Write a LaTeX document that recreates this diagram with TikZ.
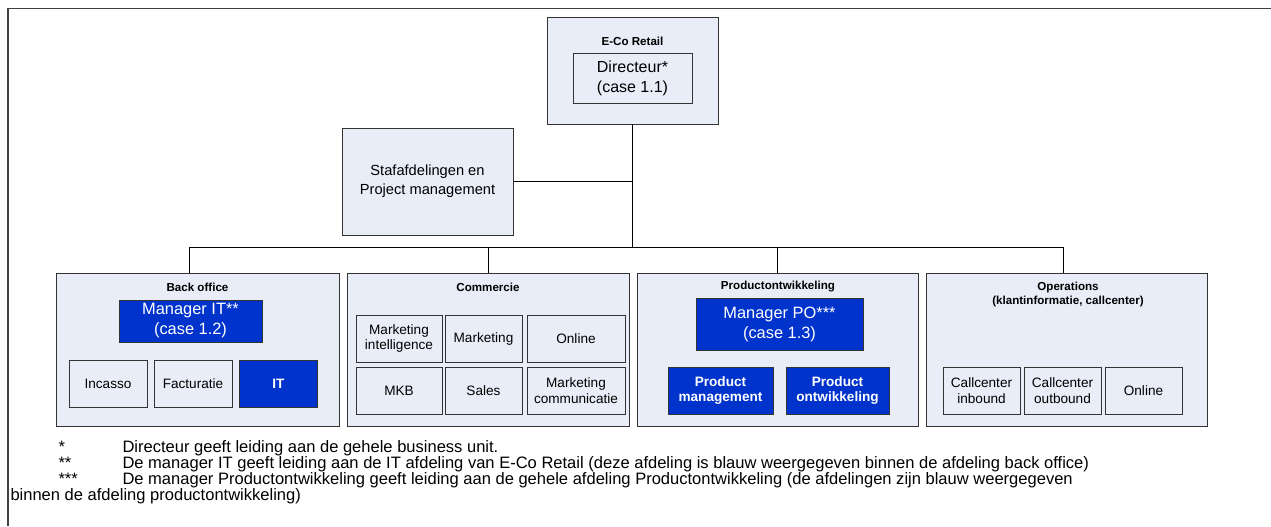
\documentclass[tikz,border=0pt]{standalone}
\usepackage{fontspec}
\setmainfont{Liberation Sans}
\usetikzlibrary{calc}

\definecolor{paleblue}{RGB}{232,237,247}
\definecolor{leadblue}{RGB}{0,51,204}
\definecolor{boxline}{RGB}{51,51,51}
\definecolor{framegray}{RGB}{64,64,64}

\tikzset{
    sized/.style 2 args={minimum width=#1*0.75pt, minimum height=#2*0.75pt},
    unitbox/.style={draw=boxline, fill=paleblue, line width=0.75pt, inner sep=0pt, align=center},
    subbox/.style={unitbox, font=\fontsize{10.2}{11.8}\selectfont},
    leadbox/.style={draw=boxline, fill=leadblue, text=white, line width=0.75pt, inner sep=0pt, align=center},
    deptitle/.style={font=\bfseries\fontsize{8.7}{10.5}\selectfont, align=center, inner sep=0pt},
    note/.style={anchor=base west, inner sep=0pt, font=\fontsize{12.4}{12}\selectfont}
}

\begin{document}
\begin{tikzpicture}[x=0.75pt, y=-0.75pt, line width=0.75pt]
\useasboundingbox (0,0) rectangle (1271,526);

% Frame (top and left only)
\draw[framegray, line width=1.1pt] (8,526) -- (8,8.5) -- (1271,8.5);

% Top of the organisation
\node[unitbox, sized={171}{107}] (eco) at (632.5,70.5) {};
\node[deptitle] (ecotitle) at (632.5,41) {E-Co Retail};
\node[unitbox, sized={119}{50}, font=\fontsize{12}{15}\selectfont] (dir) at (632.5,78) {Directeur*\\(case 1.1)};

\node[unitbox, sized={171}{107}, font=\fontsize{11}{14.2}\selectfont] (staf) at (427.5,181.5) {Stafafdelingen en\\Project management};

% Departments
\node[unitbox, sized={283}{153}] (back) at (197.5,349.5) {};
\node[unitbox, sized={282}{153}] (comm) at (488,349.5) {};
\node[unitbox, sized={281}{153}] (prod) at (777.5,349.5) {};
\node[unitbox, sized={281}{153}] (ops) at (1066.5,349.5) {};

% Connectors
\coordinate (busL) at (189,247);
\coordinate (busR) at (1063,247);
\draw (eco.south) -- (eco.south |- busL);
\draw (staf.east) -- (staf.east -| eco.south);
\draw (busL) -- (busR);
\draw (busL) -- (busL |- back.north);
\draw (comm.north) -- (comm.north |- busL);
\draw (prod.north) -- (prod.north |- busL);
\draw (busR) -- (busR |- ops.north);

% Back office
\node[deptitle] (backtitle) at (197.5,287) {Back office};
\node[leadbox, sized={143}{42}, font=\fontsize{12.3}{15}\selectfont] (mgrit) at (190.5,321) {Manager IT**\\(case 1.2)};
\node[subbox, sized={78}{47}] (incasso) at (108,383.5) {Incasso};
\node[subbox, sized={78}{47}] (fact) at (193,383.5) {Facturatie};
\node[leadbox, sized={78}{47}, font=\bfseries\fontsize{10.2}{11.8}\selectfont] (it) at (278.5,383.5) {IT};

% Commercie
\node[deptitle] (commtitle) at (488,287) {Commercie};
\node[subbox, sized={86}{47}] (mi) at (399,338.5) {Marketing\\intelligence};
\node[subbox, sized={77}{47}] (mark) at (483.5,338.5) {Marketing};
\node[subbox, sized={98}{47}] (online) at (576,338.5) {Online};
\node[subbox, sized={86}{47}] (mkb) at (399,390.5) {MKB};
\node[subbox, sized={77}{47}] (sales) at (483.5,390.5) {Sales};
\node[subbox, sized={98}{47}] (mc) at (576,390.5) {Marketing\\communicatie};

% Productontwikkeling
\node[deptitle] (prodtitle) at (778,287) {Productontwikkeling};
\node[leadbox, sized={167}{52}, font=\fontsize{12.3}{15}\selectfont] (mgrpo) at (779.5,324) {Manager PO***\\(case 1.3)};
\node[leadbox, sized={105}{47}, font=\bfseries\fontsize{10.2}{11.8}\selectfont] (pm) at (720.5,390.5) {Product\\management};
\node[leadbox, sized={103}{47}, font=\bfseries\fontsize{10.2}{11.8}\selectfont] (po) at (837.5,390.5) {Product\\ontwikkeling};

% Operations
\node[deptitle] (opstitle) at (1068,294) {Operations\\(klantinformatie, callcenter)};
\node[subbox, sized={77}{47}] (cin) at (981.5,390.5) {Callcenter\\inbound};
\node[subbox, sized={77}{47}] (cout) at (1062.5,390.5) {Callcenter\\outbound};
\node[subbox, sized={77}{47}] (opsonline) at (1143.5,390.5) {Online};

% Footnotes
\node[note] (n1mark) at (58,452) {*};
\node[note] (n1) at (122,452) {Directeur geeft leiding aan de gehele business unit.};
\node[note] (n2mark) at (58,468) {**};
\node[note] (n2) at (122,468) {De manager IT geeft leiding aan de IT afdeling van E-Co Retail (deze afdeling is blauw weergegeven binnen de afdeling back office)};
\node[note] (n3mark) at (58,484) {***};
\node[note] (n3) at (122,484) {De manager Productontwikkeling geeft leiding aan de gehele afdeling Productontwikkeling (de afdelingen zijn blauw weergegeven};
\node[note] (n4) at (10,500) {binnen de afdeling productontwikkeling)};

\end{tikzpicture}
\end{document}
